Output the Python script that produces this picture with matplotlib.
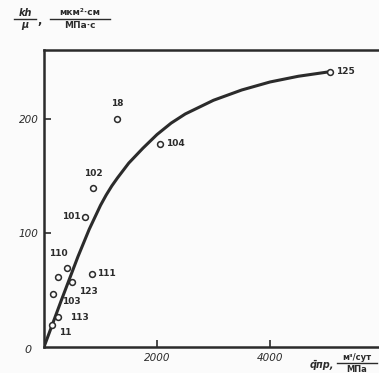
import matplotlib
matplotlib.use("Agg")
import matplotlib.pyplot as plt
from matplotlib.lines import Line2D

# Well data: reduced flow rate vs. hydroconductivity
well_ids = ["125", "104", "18", "102", "101", "111", "110", "", "123", "103", "113", "11"]
q_red = [5060, 2050, 1290, 870, 730, 850, 400, 250, 500, 160, 250, 140]
kh_mu = [241, 178, 200, 139, 114, 64, 69, 61, 57, 46, 26, 19]

# Trend curve read along its length
curve_q = [0, 300, 600, 800, 1000, 1100, 1200, 1300, 1500, 1750, 2000, 2250,
           2500, 3000, 3500, 4000, 4500, 5060]
curve_kh = [0, 40, 79, 103, 124, 133, 141, 148, 161, 174, 186, 196,
            204, 216, 225, 232, 237, 241]

x_ticks = [2000, 4000]
x_tick_labels = ["2000", "4000"]
y_ticks = [100, 200]
y_tick_labels = ["100", "200"]

ink = "#2b2b2b"
bg = "#fbfbfb"
W, H = 379, 373
fig = plt.figure(figsize=(W / 100, H / 100), dpi=100)
fig.patch.set_facecolor(bg)

ax = fig.add_axes([44 / W, (H - 347) / H, 339 / W, 297 / H])
ax.set_facecolor(bg)
ax.set_xlim(0, 6000)
ax.set_ylim(0, 260)

ax.plot(curve_q, curve_kh, color=ink, lw=2.2, solid_capstyle="round",
        solid_joinstyle="round", zorder=2)
ax.plot(q_red, kh_mu, linestyle="none", marker="o", ms=4.2, mfc=bg,
        mec=ink, mew=1.1, zorder=3)

# label offsets in pixels (dx, dy, ha)
offsets = [(6, 0, "left"), (6, 0, "left"), (0, 15, "center"), (0, 15, "center"),
           (-5, 0, "right"), (5, 0, "left"), (-8, 15, "center"), (0, 0, "left"),
           (7, -10, "left"), (9, -7, "left"), (12, 0, "left"), (7, -7, "left")]
for name, x, y, (dx, dy, ha) in zip(well_ids, q_red, kh_mu, offsets):
    if name:
        ax.annotate(name, (x, y), xytext=(dx, dy), textcoords="offset pixels",
                    ha=ha, va="center", fontsize=6.5, color=ink, fontweight="bold")

for side in ["left", "bottom", "top"]:
    ax.spines[side].set_linewidth(1.8)
    ax.spines[side].set_color(ink)
ax.spines["right"].set_visible(False)

ax.set_xticks(x_ticks)
ax.set_xticklabels(x_tick_labels)
ax.set_yticks(y_ticks)
ax.set_yticklabels(y_tick_labels)
ax.tick_params(direction="in", length=5, width=1.2, color=ink, labelsize=7.5,
               labelcolor=ink, pad=4)
for lab in ax.get_xticklabels() + ax.get_yticklabels():
    lab.set_fontstyle("italic")

fig.text(28 / W, 1 - 350 / H, "0", fontsize=8, style="italic", color=ink,
         ha="center", va="center")


def px(x, y):
    return x / W, 1 - y / H


def fraction(xc, yc, num, den, half_w, size, gap=6.5, lw=1.0, style="normal"):
    fig.text(*px(xc, yc - gap), num, fontsize=size, color=ink, ha="center",
             va="center", fontweight="bold", style=style)
    fig.text(*px(xc, yc + gap), den, fontsize=size, color=ink, ha="center",
             va="center", fontweight="bold", style=style)
    x0, y0 = px(xc - half_w, yc)
    x1, _ = px(xc + half_w, yc)
    fig.add_artist(Line2D([x0, x1], [y0, y0], color=ink, lw=lw,
                          transform=fig.transFigure))


# axis titles as fractions
fraction(25, 19, "kh", "μ", 11, 7, style="italic")
fig.text(*px(40, 21), ",", fontsize=8, color=ink, ha="center", va="center",
         fontweight="bold")
fraction(80, 19, "мкм²·см", "МПа·с", 30, 6.5)

fig.text(*px(322, 365), "q̄пр,", fontsize=7, color=ink, ha="center",
         va="center", fontweight="bold", style="italic")
fraction(357, 363, "м³/сут", "МПа", 20, 6, gap=6)

fig.savefig("out.png", dpi=100, facecolor=fig.get_facecolor())
